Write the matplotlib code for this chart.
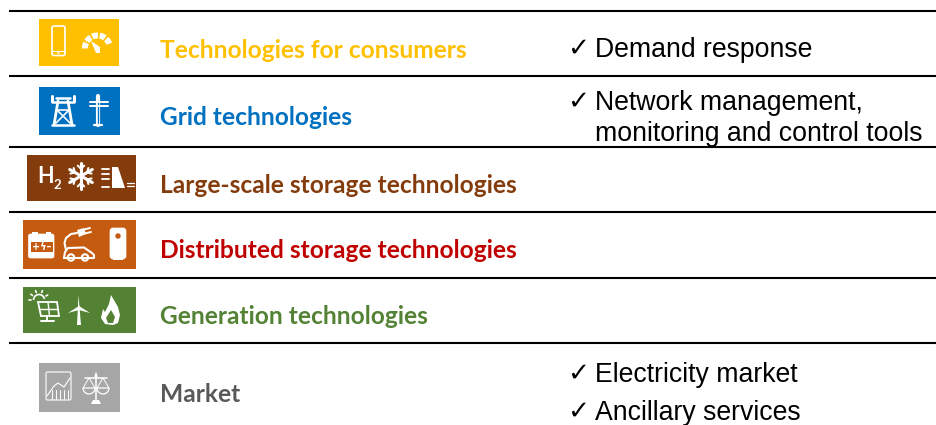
import numpy as np
import matplotlib
matplotlib.use("Agg")
import matplotlib.pyplot as plt
from matplotlib.patches import Rectangle, FancyBboxPatch, Circle, Polygon, Wedge, Arc

categories = ["Technologies for consumers", "Grid technologies", "Large-scale storage technologies",
              "Distributed storage technologies", "Generation technologies", "Market"]
colors = ["#FFC000", "#0070C0", "#843C0C", "#C00000", "#548235", "#595959"]
box_colors = ["#FFC000", "#0070C0", "#843C0C", "#C55A11", "#548235", "#A6A6A6"]
label_y = [50, 117, 185.5, 250.5, 317, 394]
rule_y = [11, 76, 147, 212, 278, 343]
boxes = [(39, 19, 119, 66), (39, 87, 120, 135), (27, 155, 136, 201),
         (23, 220, 136, 269), (23, 287, 136, 333), (39, 363, 120, 412)]
notes = [("\u2713", "Demand response", 567, 595, 50), ("\u2713", "Network management,", 567, 595, 103),
         ("", "monitoring and control tools", 567, 595, 134), ("\u2713", "Electricity market", 567, 595, 375),
         ("\u2713", "Ancillary services", 567, 595, 412.5)]

fig = plt.figure(figsize=(9.36, 4.25), dpi=100)
ax = fig.add_axes([0, 0, 1, 1])
ax.set_xlim(0, 936); ax.set_ylim(425, 0); ax.axis("off")

for y in rule_y:
    ax.plot([9, 936], [y, y], color="black", lw=1.5, solid_capstyle="butt")
for (x0, y0, x1, y1), c in zip(boxes, box_colors):
    ax.add_patch(Rectangle((x0, y0), x1 - x0, y1 - y0, fc=c, ec="none"))
for name, c, y in zip(categories, colors, label_y):
    ax.text(160, y, name, color=c, family="Lato", weight="bold", fontsize=17.65, va="center", ha="left")
for mark, line_text, xm, xt, y in notes:
    if mark:
        ax.text(xm, y - 1, mark, family="DejaVu Sans", fontsize=19, va="center", ha="left", color="black")
    ax.text(xt, y, line_text, family="Liberation Sans", fontsize=19.15, va="center", ha="left", color="black")

W = "white"
def line(xs, ys, lw=1.2, c=W):
    ax.plot(xs, ys, color=c, lw=lw, solid_capstyle="round", solid_joinstyle="round")
def rrect(x, y, w, h, fill=False, lw=1.0, fc=W, r=1.5):
    ax.add_patch(FancyBboxPatch((x, y), w, h, boxstyle=f"round,pad=0,rounding_size={r}",
                                fc=fc if fill else "none", ec=W, lw=lw))

# phone + gauge
rrect(52, 26, 13, 29.5, lw=1.2, r=2)
line([52, 65], [50.5, 50.5], .8)
ax.add_patch(Circle((58.5, 53), 1.0, fc=W))
for a0 in (178, 212, 246, 280, 314):
    ax.add_patch(Wedge((97.5, 48), 15.5, a0, a0 + 26, width=6, fc=W, ec="none"))
ax.add_patch(Polygon([(91, 41), (100, 47), (100, 53), (96, 53)], fc=W, ec="none"))

# pylon + pole
line([56, 70], [98, 98], 1.8); line([52, 52], [96, 101], 2.2); line([74, 74], [96, 101], 2.2)
line([52, 74], [101.5, 101.5], 1.8)
line([58, 54], [101, 125], 2.0); line([68, 72], [101, 125], 2.0)
line([57, 70], [110, 123], 1.2); line([69, 56], [110, 123], 1.2); line([57, 69], [110, 110], 1.2)
line([52, 74], [125, 125], 1.8)
line([98, 98], [96, 125], 3.0); line([98, 98], [101, 123], 1.0, "#0070C0")
line([90, 108], [102, 102], 1.4); line([90, 108], [106, 106], 1.4)
line([94, 102], [125, 125], 1.6)

# H2 snowflake dam
ax.text(37, 176, "H", color=W, family="Lato", weight="bold", fontsize=15.5, va="center")
ax.text(53, 185, "2", color=W, family="Lato", weight="bold", fontsize=9.5, va="center")
for a in (0, 60, 120):
    dx, dy = 13 * np.cos(np.radians(a + 90)), 13 * np.sin(np.radians(a + 90))
    line([81 - dx, 81 + dx], [176 - dy, 176 + dy], 2.2)
    for s in (-1, 1):
        for b in (-45, 45):
            p = np.radians(a + 90 + b)
            cx, cy = 81 + s * .55 * dx, 176 + s * .55 * dy
            line([cx, cx + s * 4.5 * np.cos(p)], [cy, cy + s * 4.5 * np.sin(p)], 1.5)
for y in (169, 174, 179, 187):
    line([102, 109], [y, y], 1.3)
ax.add_patch(Polygon([(112, 167), (118, 167), (125, 188), (112, 188)], fc=W, ec="none"))
line([127, 134], [183, 183], .9); line([127, 134], [186, 186], .9)

# battery, EV, boiler
rrect(28.5, 234, 25.5, 24, fill=True, r=2, lw=.5)
ax.add_patch(Rectangle((32, 231.5), 5.5, 3, fc=W, ec="none")); ax.add_patch(Rectangle((45.5, 231.5), 5.5, 3, fc=W, ec="none"))
ax.add_patch(Rectangle((30.5, 242), 22, 10, fc="#C55A11", ec="none"))
ax.text(41.5, 247, "+ϟ\u2013", color=W, family="DejaVu Sans", weight="bold", fontsize=7, ha="center", va="center")
line([64, 65, 68, 84, 92, 94, 94, 64, 64], [258, 252, 248, 247.5, 253, 255, 258, 258, 258], 1.5)
line([66, 64.5, 66, 71, 77], [250, 243, 238, 234, 233], 1.5)
ax.add_patch(Circle((71, 257.5), 3.2, fc="#C55A11", ec=W, lw=1.5))
ax.add_patch(Circle((85, 257.5), 3.2, fc="#C55A11", ec=W, lw=1.5))
ax.add_patch(Polygon([(77, 230), (84, 228), (86, 234), (79, 237)], fc=W, ec="none"))
line([84, 90], [229.5, 228], 1.4); line([85, 91], [233.5, 232], 1.4)
rrect(110, 228, 16, 31, fill=True, r=3, lw=.5)
ax.add_patch(Rectangle((113, 258), 10, 2, fc=W, ec="none"))
ax.add_patch(Circle((118, 236), 2.7, fc="#C55A11", ec="none"))

# solar, wind, fire
ax.add_patch(Arc((39, 300), 11, 11, theta1=180, theta2=350, ec=W, lw=1.2))
for a in (180, 215, 250, 290, 330):
    r = np.radians(a)
    line([39 + 8 * np.cos(r), 39 + 10 * np.cos(r)], [300 + 8 * np.sin(r), 300 + 10 * np.sin(r)], 1.2)
ax.add_patch(Polygon([(38, 302), (57, 302), (59, 316), (41, 316)], fc="none", ec=W, lw=1.3))
line([39, 58], [309, 309], 1); line([48, 49.5], [302, 316], 1)
line([47, 47], [316, 320], 1.4); line([41, 54], [320.5, 320.5], 1.4)
ax.add_patch(Polygon([(78.5, 295), (81, 325), (77, 325)], fc=W, ec="none"))
ax.add_patch(Polygon([(79, 306), (68, 313), (79, 310)], fc=W, ec="none"))
ax.add_patch(Polygon([(79, 306), (90, 313), (79, 310)], fc=W, ec="none"))
ax.add_patch(Polygon([(111, 295), (118, 307), (120, 315), (118, 323), (113, 325), (105, 324), (101, 318),
                      (103, 309), (105, 312), (109, 304)], fc=W, ec="none"))
ax.add_patch(Polygon([(111, 310), (115, 317), (113, 323), (108, 323), (106, 318)], fc="#548235", ec="none"))

# chart, scales
rrect(46, 372, 25, 28, lw=.8)
line([47, 54, 58, 64, 70], [396, 386, 383, 387, 378], .8)
for x in (52, 56, 60, 64, 68):
    line([x, x], [390, 399], .7)
line([96, 96], [373, 403], 1.1)
line([85, 107], [378, 378], 1.1)
ax.add_patch(Wedge((89, 388), 6, 0, 180, fc="none", ec=W, lw=.9))
ax.add_patch(Wedge((103, 388), 6, 0, 180, fc="none", ec=W, lw=.9))
line([83, 89, 95], [388, 378, 388], .7); line([97, 103, 109], [388, 378, 388], .7)
ax.add_patch(Polygon([(91, 404), (101, 404), (99, 400), (93, 400)], fc=W, ec="none"))
ax.add_patch(Circle((96, 376), 1.6, fc=W))

fig.savefig("out.png", dpi=100)
